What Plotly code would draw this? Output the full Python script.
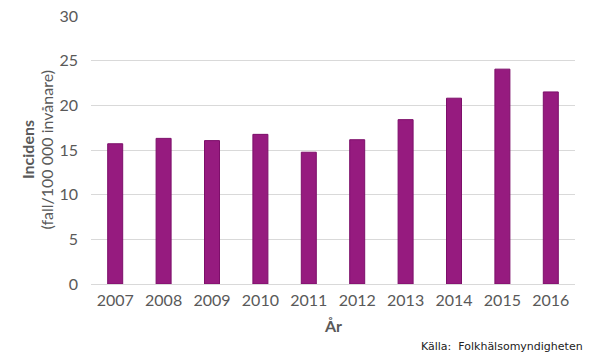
import plotly.graph_objects as go

years = ["2007", "2008", "2009", "2010", "2011", "2012", "2013", "2014", "2015", "2016"]
incidence = [15.7, 16.3, 16.05, 16.75, 14.75, 16.15, 18.4, 20.8, 24.05, 21.5]
y_ticks = [0, 5, 10, 15, 20, 25, 30]

font_family = "Lato, Open Sans, DejaVu Sans, sans-serif"
gray = "#595959"

fig = go.Figure()
fig.add_trace(go.Bar(
    x=years, y=incidence,
    marker=dict(color="#961b7f", line=dict(color="#7d0f6a", width=1)),
))

fig.update_layout(
    width=590, height=354,
    margin=dict(l=91, r=15, t=16, b=70),
    plot_bgcolor="white", paper_bgcolor="white",
    bargap=0.69,
    showlegend=False,
    font=dict(family=font_family, color=gray, size=15),
)
fig.update_yaxes(
    range=[0, 30], tickvals=y_ticks, showgrid=True, gridcolor="#d9d9d9", gridwidth=1,
    zeroline=True, zerolinecolor="#d9d9d9", zerolinewidth=1, automargin=False,
    ticks="", ticklabelstandoff=12, tickfont=dict(size=16, color=gray),
)
fig.update_xaxes(
    showgrid=False, ticks="", showline=False, ticklabelstandoff=5, automargin=False,
    tickfont=dict(size=16, color=gray),
)

fig.add_annotation(
    text="<b>Incidens</b>", textangle=-90, x=-0.132, y=0.5,
    xref="paper", yref="paper", xanchor="center", yanchor="middle",
    showarrow=False, font=dict(size=16, color=gray, family=font_family),
)
fig.add_annotation(
    text="(fall/100 000 invånare)", textangle=-90, x=-0.094, y=0.5,
    xref="paper", yref="paper", xanchor="center", yanchor="middle",
    showarrow=False, font=dict(size=16, color=gray, family=font_family),
)
fig.add_annotation(
    text="<b>År</b>", x=0.5, y=-0.155, xref="paper", yref="paper",
    xanchor="center", yanchor="middle", showarrow=False,
    font=dict(size=16, color=gray, family=font_family),
)
fig.add_annotation(
    text="Källa:  Folkhälsomyndigheten", x=1.02, y=-0.232, xref="paper", yref="paper",
    xanchor="right", yanchor="middle",
    showarrow=False, font=dict(size=11, color="#222222", family="DejaVu Sans, sans-serif"),
)

fig.write_html("out.html")
